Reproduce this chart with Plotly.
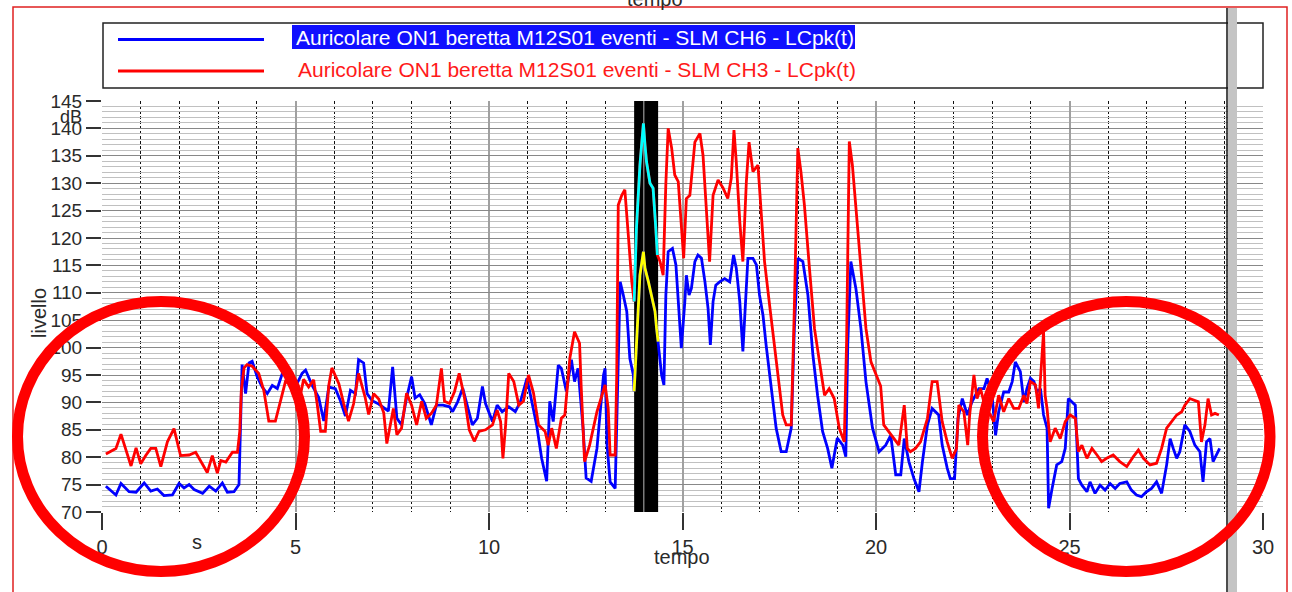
import plotly.graph_objects as go
import numpy as np

# ---------------- data ----------------
blue_t = [0.10, 0.36, 0.49, 0.70, 0.88, 1.09, 1.26, 1.43, 1.60, 1.82, 1.99, 2.12, 2.25, 2.38, 2.60, 2.77,
          2.94, 3.11, 3.24, 3.41, 3.54, 3.56, 3.60, 3.62, 3.71, 3.80, 3.88, 4.01, 4.14, 4.27, 4.40, 4.53,
          4.66, 4.74, 5.00, 5.17, 5.26, 5.43, 5.60, 5.73, 5.86, 6.03, 6.16, 6.29, 6.42, 6.55, 6.63, 6.76,
          6.85, 6.98, 7.15, 7.32, 7.40, 7.51, 7.62, 7.74, 7.87, 8.00, 8.09, 8.21, 8.34, 8.51, 8.64, 8.81,
          8.98, 9.06, 9.19, 9.32, 9.45, 9.57, 9.70, 9.83, 9.91, 10.09, 10.21, 10.34, 10.51, 10.68, 10.81,
          10.98, 11.06, 11.23, 11.36, 11.49, 11.57, 11.66, 11.79, 11.87, 12.00, 12.13, 12.21, 12.30, 12.43,
          12.51, 12.64, 12.79, 12.96, 13.00, 13.05, 13.13, 13.26, 13.30, 13.39, 13.47, 13.56, 13.64, 13.73,
          13.75, 13.81, 13.90, 13.99, 14.03, 14.12, 14.20, 14.29, 14.33, 14.37, 14.46, 14.52, 14.57, 14.63,
          14.74, 14.83, 14.89, 14.97, 15.06, 15.10, 15.17, 15.23, 15.32, 15.40, 15.49, 15.58, 15.66, 15.72,
          15.79, 15.86, 15.96, 16.09, 16.22, 16.32, 16.39, 16.48, 16.56, 16.63, 16.69, 16.82, 16.91, 16.99,
          17.08, 17.16, 17.29, 17.42, 17.55, 17.68, 17.81, 17.89, 17.98, 18.11, 18.24, 18.37, 18.49, 18.62,
          18.75, 18.86, 19.00, 19.14, 19.22, 19.27, 19.35, 19.48, 19.61, 19.74, 19.91, 20.08, 20.25, 20.38,
          20.51, 20.64, 20.73, 20.85, 20.98, 21.11, 21.20, 21.33, 21.45, 21.62, 21.71, 21.84, 21.92, 22.03,
          22.12, 22.23, 22.36, 22.48, 22.66, 22.79, 22.87, 23.00, 23.09, 23.17, 23.30, 23.43, 23.52, 23.60,
          23.73, 23.82, 23.90, 23.99, 24.08, 24.16, 24.25, 24.33, 24.42, 24.46, 24.55, 24.67, 24.80, 24.89,
          24.97, 25.06, 25.15, 25.23, 25.32, 25.45, 25.53, 25.66, 25.79, 25.92, 26.05, 26.18, 26.30, 26.48,
          26.60, 26.73, 26.86, 26.99, 27.12, 27.25, 27.38, 27.51, 27.60, 27.68, 27.77, 27.85, 27.98, 28.11,
          28.24, 28.37, 28.45, 28.54, 28.63, 28.71, 28.79, 28.88]
blue_v = [74.7, 73.1, 75.2, 73.7, 73.6, 75.3, 73.8, 74.2, 73.0, 73.1, 75.2, 74.4, 75.0, 74.1, 73.4, 74.7,
          73.8, 75.3, 73.6, 73.7, 75.0, 80.9, 89.4, 96.9, 91.6, 97.2, 97.5, 94.7, 92.8, 91.6, 93.1, 92.5,
          95.3, 95.6, 92.9, 95.3, 95.9, 93.1, 90.9, 86.6, 92.8, 92.5, 90.3, 87.5, 92.2, 91.6, 97.8, 97.2,
          91.6, 90.3, 89.7, 88.8, 88.4, 96.5, 87.1, 85.9, 90.8, 94.7, 90.8, 91.4, 89.8, 85.9, 89.5, 89.5,
          89.2, 88.3, 90.1, 92.6, 88.9, 85.9, 87.1, 92.9, 89.8, 86.5, 89.5, 88.3, 89.2, 88.3, 90.1,
          94.4, 91.7, 85.9, 79.8, 75.6, 90.2, 86.5, 96.8, 96.2, 92.0, 97.8, 93.8, 96.2, 85.3,
          76.2, 75.6, 81.6, 95.0, 96.2, 82.2, 75.5, 74.3, 87.1, 112.0, 109.6, 106.6, 98.0, 95.0,
          92.0, 99.9, 113.2, 117.5, 114.5, 112.0, 109.6, 106.6, 103.5, 101.1, 95.0, 93.2, 109.6, 117.5,
          118.1, 115.1, 109.0, 99.9, 108.4, 113.2, 109.6, 110.8, 115.7, 116.9, 116.3, 112.0, 107.2, 100.5,
          108.4, 111.4, 112.0, 112.6, 112.0, 116.9, 114.5, 108.4, 99.3, 109.6, 116.3, 116.3, 115.1, 109.6,
          105.9, 100.5, 93.2, 85.3, 81.0, 81.0, 85.3, 103.5, 116.3, 115.7, 109.6, 98.6, 91.3, 84.7,
          81.6, 78.0, 83.5, 82.2, 80.1, 100.5, 115.7, 110.8, 103.5, 93.8, 85.3, 81.0, 82.2, 84.0,
          76.8, 76.8, 83.4, 79.2, 76.1, 73.7, 79.2, 85.9, 88.9, 87.7, 82.2, 78.0, 76.1, 76.1,
          87.1, 90.7, 87.7, 90.1, 92.5, 92.5, 94.4, 91.3, 84.0, 88.3, 91.9, 91.9, 93.8, 97.4,
          95.6, 90.1, 92.5, 94.4, 93.8, 91.9, 92.5, 87.7, 85.3, 70.7, 74.3, 78.6, 79.2, 81.6,
          90.7, 90.1, 89.5, 76.1, 74.9, 73.7, 75.5, 73.4, 74.9, 74.0, 75.2, 74.3, 75.2, 75.5,
          74.0, 73.1, 72.8, 73.7, 74.3, 75.5, 73.4, 78.6, 83.4, 81.6, 79.8, 81.0, 85.9, 84.7,
          82.2, 81.0, 75.5, 82.8, 83.4, 79.2, 80.4, 81.6]

red_t = [0.10, 0.36, 0.49, 0.58, 0.75, 0.88, 1.00, 1.13, 1.26, 1.39, 1.52, 1.69, 1.86, 2.03, 2.25, 2.42,
         2.55, 2.72, 2.85, 2.98, 3.07, 3.20, 3.37, 3.50, 3.56, 3.60, 3.67, 3.75, 3.88, 4.05, 4.18, 4.31,
         4.48, 4.61, 4.74, 4.83, 5.00, 5.04, 5.21, 5.34, 5.47, 5.56, 5.65, 5.77, 5.86, 5.94, 6.12, 6.25,
         6.37, 6.50, 6.63, 6.80, 6.89, 7.02, 7.15, 7.28, 7.36, 7.45, 7.53, 7.62, 7.74, 7.87, 8.00, 8.13,
         8.26, 8.38, 8.51, 8.64, 8.77, 8.85, 8.98, 9.11, 9.23, 9.36, 9.49, 9.62, 9.74, 9.91, 10.09, 10.21,
         10.30, 10.36, 10.43, 10.51, 10.64, 10.77, 10.89, 11.02, 11.15, 11.28, 11.45, 11.53, 11.62, 11.74,
         11.87, 11.96, 12.09, 12.21, 12.34, 12.38, 12.47, 12.60, 12.79, 13.00, 13.08, 13.13, 13.26, 13.30,
         13.34, 13.43, 13.51, 13.60, 13.69, 13.75, 13.81, 13.90, 13.99, 14.03, 14.07, 14.16, 14.24, 14.31,
         14.35, 14.42, 14.50, 14.57, 14.63, 14.72, 14.80, 14.89, 14.97, 15.03, 15.10, 15.19, 15.32, 15.45,
         15.53, 15.62, 15.70, 15.79, 15.92, 16.05, 16.17, 16.26, 16.33, 16.39, 16.48, 16.56, 16.65, 16.72,
         16.82, 16.95, 17.03, 17.12, 17.25, 17.38, 17.50, 17.59, 17.68, 17.81, 17.89, 17.98, 18.06, 18.15,
         18.28, 18.41, 18.54, 18.67, 18.79, 18.92, 19.05, 19.18, 19.24, 19.31, 19.39, 19.48, 19.61, 19.74,
         19.87, 20.00, 20.12, 20.20, 20.33, 20.46, 20.59, 20.73, 20.81, 20.89, 21.02, 21.15, 21.33, 21.45,
         21.58, 21.71, 21.84, 21.97, 22.08, 22.14, 22.27, 22.37, 22.42, 22.53, 22.61, 22.70, 22.83, 22.96,
         23.04, 23.17, 23.30, 23.43, 23.56, 23.69, 23.82, 23.90, 23.99, 24.12, 24.20, 24.29, 24.33, 24.37,
         24.42, 24.50, 24.63, 24.76, 24.89, 25.02, 25.15, 25.23, 25.32, 25.45, 25.58, 25.71, 25.83, 25.96,
         26.13, 26.30, 26.48, 26.65, 26.78, 26.91, 27.08, 27.25, 27.38, 27.51, 27.64, 27.77, 27.90, 27.98,
         28.11, 28.24, 28.33, 28.41, 28.50, 28.58, 28.67, 28.76, 28.86]
red_v = [80.6, 81.6, 84.2, 82.2, 78.4, 81.7, 78.8, 80.3, 81.6, 81.6, 78.3, 82.8, 85.2, 80.3, 80.4, 80.9,
         79.4, 77.2, 80.3, 77.1, 79.4, 79.1, 80.9, 80.9, 84.7, 92.2, 96.3, 96.9, 96.6, 95.3, 92.2, 86.6,
         86.6, 90.3, 93.8, 93.5, 91.7, 88.4, 94.2, 92.8, 94.1, 89.7, 84.7, 84.7, 93.1, 96.3, 93.4, 89.7,
         86.6, 89.7, 95.3, 90.9, 87.8, 91.6, 90.6, 88.1, 82.5, 85.9, 88.9, 84.1, 85.3, 91.7, 89.5, 85.9,
         90.2, 87.1, 88.0, 89.5, 96.2, 90.2, 89.8, 92.0, 95.3, 91.1, 85.0, 82.9, 84.7, 85.0, 85.9, 88.6,
         86.5, 79.8, 85.9, 95.3, 93.8, 89.5, 90.2, 95.0, 91.7, 85.9, 84.7, 82.2, 85.3, 81.6,
         87.1, 87.7, 98.1, 102.9, 100.8, 93.2, 79.2, 82.2, 88.3, 93.2, 88.9, 80.4, 80.4, 95.0,
         126.0, 127.8, 128.8, 120.5, 112.0, 108.4, 121.8, 133.3, 140.9, 137.0, 133.9, 130.0, 129.1, 121.8,
         116.9, 115.7, 113.2, 130.0, 140.0, 136.4, 131.5, 130.3, 121.8, 116.3, 127.2, 127.8, 137.5, 139.1,
         135.1, 125.4, 115.7, 127.8, 130.6, 129.1, 127.2, 130.9, 139.7, 133.9, 123.0, 115.7, 130.3, 137.5,
         132.1, 133.3, 124.8, 115.7, 107.8, 100.5, 93.2, 87.7, 85.9, 85.9, 107.2, 136.4, 132.1, 126.0,
         114.5, 103.5, 97.4, 91.3, 92.5, 90.7, 85.3, 82.8, 101.1, 137.6, 133.3, 125.4, 114.5, 103.5,
         97.4, 95.0, 93.0, 85.9, 84.7, 83.4, 82.2, 89.5, 81.6, 81.0, 81.6, 82.8, 87.1, 93.8,
         93.8, 86.5, 82.8, 79.8, 81.6, 89.5, 88.3, 82.2, 87.7, 95.0, 90.7, 92.5, 88.9, 87.7,
         86.5, 91.3, 88.3, 90.7, 88.9, 88.9, 91.3, 89.8, 93.8, 93.2, 88.9, 98.6, 102.9, 91.3,
         88.9, 82.8, 85.3, 83.4, 86.5, 87.7, 87.1, 81.0, 82.2, 79.8, 81.6, 80.4, 79.2, 79.8,
         80.4, 79.2, 78.3, 80.1, 81.3, 79.8, 78.6, 78.9, 81.6, 85.3, 86.5, 87.7, 88.3, 89.5,
         90.7, 90.4, 90.1, 82.8, 85.9, 90.7, 87.7, 88.0, 87.7]

x_tick_vals = [0, 5, 10, 15, 20, 25, 30]
y_tick_vals = [70, 75, 80, 85, 90, 95, 100, 105, 110, 115, 120, 125, 130, 135, 140, 145]
band_range = [13.75, 14.37]   # selected (highlighted) interval, s
legend_names = ["Auricolare ON1 beretta M12S01 eventi - SLM CH6 - LCpk(t)",
                "Auricolare ON1 beretta M12S01 eventi - SLM CH3 - LCpk(t)"]

# ---------------- layout helpers ----------------
W, H = 1292, 592
L, R, T, B = 102, 29, 101, 80
PW, PH = W - L - R, H - T - B


def px(x):
    return (x - L) / PW


def py(y):
    return (H - B - y) / PH


FONT = "Liberation Sans, Arial, sans-serif"
TXT = "#2a2a2a"
BLUE = "#0000ff"
RED = "#ff0000"
LW = 2.8

bt = np.array(blue_t)
bv = np.array(blue_v)
rt = np.array(red_t)
rv = np.array(red_v)
b_in = (bt >= band_range[0]) & (bt <= band_range[1])
r_in = (rt >= band_range[0]) & (rt <= band_range[1])

fig = go.Figure()
fig.add_trace(go.Scatter(x=bt, y=bv, mode="lines", line=dict(color=BLUE, width=LW),
                         name=legend_names[0], showlegend=False))
fig.add_trace(go.Scatter(x=rt, y=rv, mode="lines", line=dict(color=RED, width=LW),
                         name=legend_names[1], showlegend=False))
fig.add_trace(go.Scatter(x=bt[b_in], y=bv[b_in], mode="lines", line=dict(color="#ffff00", width=LW),
                         showlegend=False))
fig.add_trace(go.Scatter(x=rt[r_in], y=rv[r_in], mode="lines", line=dict(color="#00ffff", width=LW),
                         showlegend=False))

shapes = []
# selected band
shapes.append(dict(type="rect", xref="x", yref="y", x0=band_range[0], x1=band_range[1], y0=70, y1=145,
                   fillcolor="black", line=dict(width=0), layer="between"))
shapes.append(dict(type="line", xref="x", yref="y", x0=14, x1=14, y0=70, y1=145,
                   line=dict(color="#9a9a9a", width=1.2), layer="between"))
# outer red frame
shapes.append(dict(type="rect", xref="paper", yref="paper", x0=px(13), x1=px(1287), y0=py(7), y1=py(620),
                   line=dict(color="#e02020", width=1.5), layer="above"))
# legend box
shapes.append(dict(type="rect", xref="paper", yref="paper", x0=px(103), x1=px(1263), y0=py(23), y1=py(88),
                   line=dict(color="#222222", width=1.5), fillcolor="white", layer="above"))
shapes.append(dict(type="line", xref="paper", yref="paper", x0=px(118), x1=px(264), y0=py(39.5), y1=py(39.5),
                   line=dict(color=BLUE, width=3), layer="above"))
shapes.append(dict(type="line", xref="paper", yref="paper", x0=px(118), x1=px(264), y0=py(71), y1=py(71),
                   line=dict(color=RED, width=3), layer="above"))
shapes.append(dict(type="rect", xref="paper", yref="paper", x0=px(292), x1=px(855), y0=py(25), y1=py(49),
                   fillcolor="#1010ff", line=dict(width=0), layer="above"))
# cursor
shapes.append(dict(type="rect", xref="paper", yref="paper", x0=px(1228), x1=px(1237), y0=py(8), y1=py(600),
                   fillcolor="#c4c4c4", line=dict(width=0), layer="above"))
shapes.append(dict(type="line", xref="paper", yref="paper", x0=px(1227), x1=px(1227), y0=py(8), y1=py(600),
                   line=dict(color="#111111", width=1.5), layer="above"))
# red annotation circles
shapes.append(dict(type="circle", xref="paper", yref="paper", x0=px(17.5), x1=px(304.5), y0=py(301.5), y1=py(571.5),
                   line=dict(color="#ff0000", width=11), layer="above"))
shapes.append(dict(type="circle", xref="paper", yref="paper", x0=px(982.5), x1=px(1270), y0=py(301.5), y1=py(571.5),
                   line=dict(color="#ff0000", width=11), layer="above"))

annotations = [
    dict(text=legend_names[0], x=px(294), y=py(37.5), xref="paper", yref="paper", xanchor="left",
         yanchor="middle", showarrow=False, font=dict(family=FONT, size=21, color="white")),
    dict(text=legend_names[1], x=px(296), y=py(69.5), xref="paper", yref="paper", xanchor="left",
         yanchor="middle", showarrow=False, font=dict(family=FONT, size=21, color="#ff1a1a")),
    dict(text="dB", x=px(84), y=py(117), xref="paper", yref="paper", xanchor="right", yanchor="middle",
         showarrow=False, font=dict(family=FONT, size=18, color=TXT)),
    dict(text="livello", x=px(39), y=py(313), xref="paper", yref="paper", xanchor="center", yanchor="middle",
         textangle=-90, showarrow=False, font=dict(family=FONT, size=20, color=TXT)),
    dict(text="s", x=px(197), y=py(542), xref="paper", yref="paper", xanchor="center", yanchor="middle",
         showarrow=False, font=dict(family=FONT, size=20, color=TXT)),
    dict(text="tempo", x=px(682), y=py(557), xref="paper", yref="paper", xanchor="center", yanchor="middle",
         showarrow=False, font=dict(family=FONT, size=20, color=TXT)),
    dict(text="tempo", x=px(655), y=py(-1), xref="paper", yref="paper", xanchor="center", yanchor="middle",
         showarrow=False, font=dict(family=FONT, size=20, color=TXT)),
]

fig.update_layout(
    width=W, height=H, autosize=False,
    margin=dict(l=L, r=R, t=T, b=B, pad=0),
    paper_bgcolor="white", plot_bgcolor="white",
    showlegend=False,
    shapes=shapes, annotations=annotations,
    xaxis=dict(range=[0, 30], tickmode="array", tickvals=x_tick_vals, ticks="outside", ticklen=17,
               tickwidth=1.5, tickcolor="#333333", showgrid=True, gridcolor="#a0a0a0", gridwidth=1.6,
               zeroline=False, showline=False,
               tickfont=dict(family=FONT, size=20, color=TXT),
               minor=dict(dtick=1, tick0=0, showgrid=True, gridcolor="#111111", griddash="3px,2px",
                          gridwidth=1.3, ticks="")),
    yaxis=dict(range=[70, 145], tickmode="array", tickvals=y_tick_vals, ticks="outside", ticklen=15,
               tickwidth=1.5, tickcolor="#333333", showgrid=True, gridcolor="#888888", gridwidth=1.4,
               zeroline=False, showline=False,
               tickfont=dict(family=FONT, size=19, color=TXT),
               minor=dict(dtick=1, tick0=70, showgrid=True, gridcolor="#c0c0c0", gridwidth=1, ticks="")),
)

fig.write_html("out.html", config={"displayModeBar": False})
